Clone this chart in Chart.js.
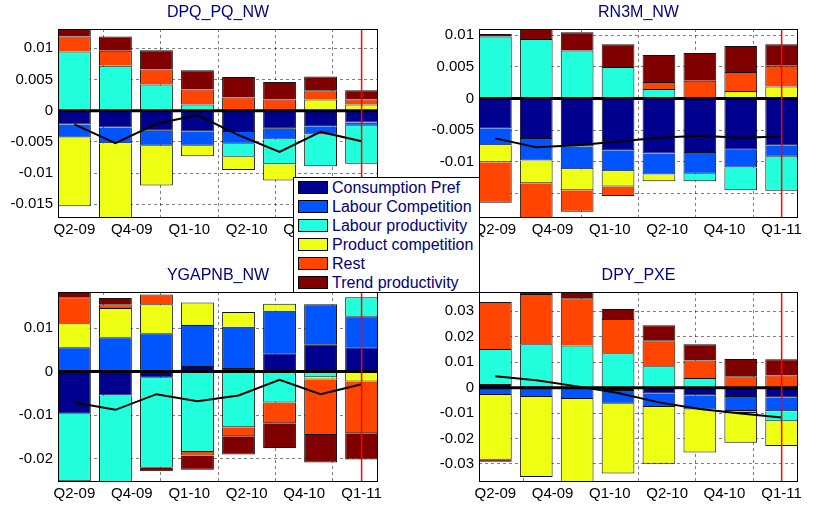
<!DOCTYPE html>
<html><head><meta charset="utf-8">
<script src="https://cdn.jsdelivr.net/npm/chart.js@4.4.0/dist/chart.umd.min.js"></script>
<style>
html,body{margin:0;padding:0;background:#fff;width:816px;height:514px;overflow:hidden;}
.panel{position:absolute;width:408px;height:257px;}
.panel canvas{display:block;}
#legend{position:absolute;left:293px;top:177px;width:185px;height:114px;border:1px solid #000;background:#fff;
  font-family:'Liberation Sans',Arial,sans-serif;font-size:16px;color:#000080;z-index:5;}
.row{position:absolute;left:4px;height:19px;display:flex;align-items:center;white-space:nowrap;}
.sw{width:28px;height:11px;border:1px solid #000;margin-right:4px;}
</style></head><body>
<div class="panel" style="left:0;top:0"><canvas id="c1" width="408" height="257"></canvas></div>
<div class="panel" style="left:408px;top:0"><canvas id="c2" width="408" height="257"></canvas></div>
<div class="panel" style="left:0;top:257px"><canvas id="c3" width="408" height="257"></canvas></div>
<div class="panel" style="left:408px;top:257px"><canvas id="c4" width="408" height="257"></canvas></div>
<div id="legend"></div>
<script>
// ---------- data ----------
const categories = ['Q2-09','Q3-09','Q4-09','Q1-10','Q2-10','Q3-10','Q4-10','Q1-11'];
const tickPositions = [1, 2.4, 3.8, 5.2, 6.6, 8];
const tickLabels = ['Q2-09','Q4-09','Q1-10','Q2-10','Q4-10','Q1-11'];
const markerCategory = 'Q1-11';
const seriesNames = ['Consumption Pref','Labour Competition','Labour productivity','Product competition','Rest','Trend productivity'];

// DPQ_PQ_NW
const dpqConsumption = [-0.0022,-0.0027,-0.0032,-0.0033,-0.0034,-0.0029,-0.0025,-0.0019];
const dpqLabourComp  = [-0.0021,-0.0025,-0.0024,-0.0023,-0.0019,-0.0017,-0.0013,-0.0005];
const dpqLabourProd  = [0.0095,0.0072,0.0042,0.0010,-0.0021,-0.0040,-0.0051,-0.0061];
const dpqProductComp = [-0.0110,-0.0125,-0.0064,-0.0017,-0.0021,-0.0026,0.0018,0.0010];
const dpqRest        = [0.0024,0.0024,0.0024,0.0024,0.0021,0.0018,0.0015,0.0008];
const dpqTrend       = [0.0015,0.0023,0.0031,0.0031,0.0033,0.0028,0.0022,0.0015];
const dpqTotal       = [-0.0022,-0.0052,-0.0021,-0.0007,-0.0039,-0.0066,-0.0034,-0.0049];
const dpqTicks = [-0.015,-0.01,-0.005,0,0.005,0.01];

// RN3M_NW
const rnConsumption = [-0.0047,-0.0064,-0.0076,-0.0082,-0.0087,-0.0086,-0.0081,-0.0074];
const rnLabourComp  = [-0.0027,-0.0034,-0.0036,-0.0033,-0.0033,-0.0033,-0.0028,-0.0018];
const rnLabourProd  = [0.0098,0.0094,0.0076,0.0050,0.0015,-0.0012,-0.0036,-0.0054];
const rnProductComp = [-0.0027,-0.0036,-0.0033,-0.0024,-0.0011,0,0.0012,0.0019];
const rnRest        = [-0.0064,-0.0060,-0.0034,-0.0015,0.0011,0.0028,0.0030,0.0033];
const rnTrend       = [0.0004,0.0018,0.0029,0.0036,0.0043,0.0044,0.0041,0.0034];
const rnTotal       = [-0.0063,-0.0077,-0.0074,-0.0068,-0.0062,-0.0059,-0.0062,-0.0060];
const rnTicks = [-0.015,-0.01,-0.005,0,0.005,0.01];

// YGAPNB_NW
const ygConsumption = [-0.0097,-0.0055,-0.0014,0.0013,0.0008,0.0042,0.0063,0.0056];
const ygLabourComp  = [0.0056,0.0079,0.0088,0.0094,0.0095,0.0098,0.0092,0.0071];
const ygLabourProd  = [-0.0155,-0.0210,-0.0207,-0.0185,-0.0128,-0.0071,-0.0013,0.0044];
const ygProductComp = [0.0055,0.0067,0.0067,0.0052,0.0034,0.0016,-0.0005,-0.0023];
const ygRest        = [0.0060,0.0009,0.0022,-0.0008,-0.0021,-0.0048,-0.0128,-0.0119];
const ygTrend       = [0.0014,0.0014,-0.0008,-0.0033,-0.0042,-0.0057,-0.0063,-0.0060];
const ygTotal       = [-0.0071,-0.0088,-0.0052,-0.0068,-0.0055,-0.0019,-0.0052,-0.0029];
const ygTicks = [-0.02,-0.01,0,0.01];

// DPY_PXE
const dpyConsumption = [0.0014,0.0005,0.0002,-0.0013,-0.0022,-0.0030,-0.0037,-0.0038];
const dpyLabourComp  = [-0.0029,-0.0037,-0.0045,-0.0050,-0.0054,-0.0056,-0.0055,-0.0055];
const dpyLabourProd  = [0.0138,0.0166,0.0164,0.0135,0.0084,0.0038,-0.0008,-0.0039];
const dpyProductComp = [-0.0255,-0.0314,-0.0340,-0.0275,-0.0223,-0.0169,-0.0117,-0.0097];
const dpyRest        = [0.0185,0.0197,0.0185,0.0135,0.0102,0.0069,0.0045,0.0048];
const dpyTrend       = [-0.0007,0.0010,0.0030,0.0039,0.0059,0.0064,0.0068,0.0064];
const dpyTotal       = [0.0045,0.0029,0.0005,-0.0021,-0.0058,-0.0084,-0.0102,-0.0117];
const dpyTicks = [-0.03,-0.02,-0.01,0,0.01,0.02,0.03];

// ---------- styles ----------
const seriesColors = ['#00008F','#0055FF','#22FFDC','#EEFF14','#FF4500','#800000'];
const gridColor = 'rgba(0,0,0,0.5)';
Chart.defaults.font.family = "'Liberation Sans', Arial, sans-serif";
Chart.defaults.color = '#000';

const deco = {
  id: 'deco',
  afterDatasetsDraw(chart, args, opts) {
    const {ctx, chartArea: a, scales: {x, y}} = chart;
    ctx.save();
    const y0 = y.getPixelForValue(0);
    ctx.strokeStyle = '#000'; ctx.lineWidth = 3;
    ctx.beginPath(); ctx.moveTo(a.left, y0); ctx.lineTo(a.right, y0); ctx.stroke();
    const xm = x.getPixelForValue(categories.indexOf(markerCategory) + 1);
    ctx.strokeStyle = '#FF0000'; ctx.lineWidth = 1.5;
    ctx.beginPath(); ctx.moveTo(xm, a.top); ctx.lineTo(xm, a.bottom); ctx.stroke();
    ctx.strokeStyle = '#000'; ctx.lineWidth = 1;
    ctx.strokeRect(a.left + 0.5, a.top + 0.5, a.width - 1, a.height - 1);
    ctx.restore();
  },
  afterDraw(chart, args, opts) {
    const {ctx, chartArea: a} = chart;
    ctx.save();
    ctx.font = "16px 'Liberation Sans', Arial, sans-serif";
    ctx.fillStyle = '#000080'; ctx.textAlign = 'center'; ctx.textBaseline = 'middle';
    ctx.fillText(opts.title, (a.left + a.right) / 2, a.top - 16.5);
    ctx.restore();
  }
};

function makeChart(id, title, series, total, yMin, yMax, yTicks, lay) {
  const datasets = series.map((vals, k) => ({
    type: 'bar', label: seriesNames[k],
    data: vals.map((v, i) => ({x: i + 1, y: v === 0 ? null : v})),
    backgroundColor: seriesColors[k], borderColor: '#111', borderWidth: 1,
    categoryPercentage: 0.8, barPercentage: 1, order: 1
  }));
  datasets.push({
    type: 'line', label: 'total', stack: 'line',
    data: total.map((v, i) => ({x: i + 1, y: v})),
    borderColor: '#000', borderWidth: 2, pointRadius: 0, tension: 0, order: 0
  });
  return new Chart(document.getElementById(id), {
    type: 'bar',
    data: {datasets},
    plugins: [deco],
    options: {
      responsive: false, animation: false, devicePixelRatio: 1,
      layout: {padding: {top: lay.top, right: lay.right, left: 0, bottom: 0}},
      plugins: {legend: {display: false}, tooltip: {enabled: false}, deco: {title}},
      scales: {
        x: {
          type: 'linear', min: 0.6, max: categories.length + 0.4, stacked: true, offset: false,
          afterBuildTicks: s => { s.ticks = tickPositions.map(v => ({value: v})); },
          afterFit: s => { s.height = lay.xh; },
          ticks: {autoSkip: false, maxRotation: 0, minRotation: 0, padding: 3, font: {size: 15},
                  callback: (v, i) => tickLabels[i]},
          grid: {color: gridColor, drawTicks: false, lineWidth: 1},
          border: {display: false, dash: [3, 3]}
        },
        y: {
          min: yMin, max: yMax, stacked: true,
          afterBuildTicks: s => { s.ticks = yTicks.map(v => ({value: v})); },
          afterFit: s => { s.width = lay.yw; },
          ticks: {padding: 5, font: {size: 15}, callback: v => String(v)},
          grid: {color: gridColor, drawTicks: false, lineWidth: 1},
          border: {display: false, dash: [3, 3]}
        }
      }
    }
  });
}

const layTL = {top: 29, right: 30, yw: 58, xh: 39};
const layTR = {top: 29, right: 18, yw: 71, xh: 39};
const layBL = {top: 35, right: 30, yw: 58, xh: 32};
const layBR = {top: 35, right: 18, yw: 71, xh: 32};

makeChart('c1', 'DPQ_PQ_NW',
  [dpqConsumption, dpqLabourComp, dpqLabourProd, dpqProductComp, dpqRest, dpqTrend], dpqTotal,
  -0.0172, 0.0131, dpqTicks, layTL);
makeChart('c2', 'RN3M_NW',
  [rnConsumption, rnLabourComp, rnLabourProd, rnProductComp, rnRest, rnTrend], rnTotal,
  -0.0189, 0.0110, rnTicks, layTR);
makeChart('c3', 'YGAPNB_NW',
  [ygConsumption, ygLabourComp, ygLabourProd, ygProductComp, ygRest, ygTrend], ygTotal,
  -0.0254, 0.0183, ygTicks, layBL);
makeChart('c4', 'DPY_PXE',
  [dpyConsumption, dpyLabourComp, dpyLabourProd, dpyProductComp, dpyRest, dpyTrend], dpyTotal,
  -0.0371, 0.0376, dpyTicks, layBR);

// legend
const leg = document.getElementById('legend');
seriesNames.forEach((name, k) => {
  const row = document.createElement('div');
  row.className = 'row';
  row.style.top = (k * 19) + 'px';
  const sw = document.createElement('div');
  sw.className = 'sw';
  sw.style.background = seriesColors[k];
  const t = document.createElement('span');
  t.textContent = name;
  row.appendChild(sw); row.appendChild(t);
  leg.appendChild(row);
});
</script>
</body></html>
